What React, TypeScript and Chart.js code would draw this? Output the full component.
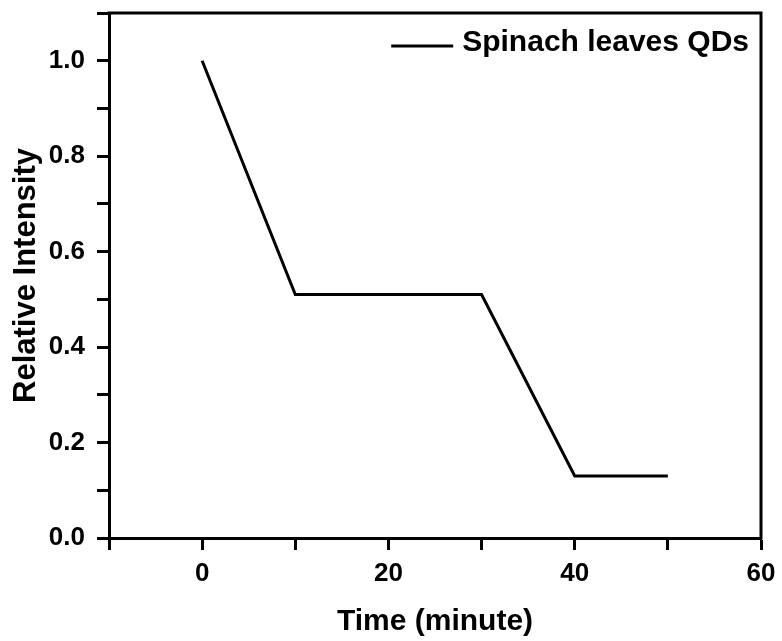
import React, { useEffect, useRef } from 'react';
import { Chart, registerables } from 'chart.js';

Chart.register(...registerables);

const seriesLabel = 'Spinach leaves QDs';
const timeMinutes = [0, 10, 30, 40, 50];
const relativeIntensity = [1.0, 0.51, 0.51, 0.13, 0.13];
const xTickLabels = [0, 20, 40, 60];
const yTickLabels = [0.0, 0.2, 0.4, 0.6, 0.8, 1.0];
const xTitle = 'Time (minute)';
const yTitle = 'Relative Intensity';

const FONT = "'Liberation Sans', Arial, Helvetica, sans-serif";

const framePlugin = {
  id: 'frame',
  afterDatasetsDraw(chart: any) {
    const { ctx, chartArea } = chart;
    ctx.save();
    ctx.strokeStyle = '#000';
    ctx.lineWidth = 3;
    ctx.lineCap = 'square';
    ctx.beginPath();
    ctx.moveTo(chartArea.left, chartArea.top);
    ctx.lineTo(chartArea.right, chartArea.top);
    ctx.lineTo(chartArea.right, chartArea.bottom);
    ctx.stroke();
    ctx.restore();
  },
};

const legendPlugin = {
  id: 'customLegend',
  afterDatasetsDraw(chart: any) {
    const { ctx, chartArea } = chart;
    const ds = chart.data.datasets[0];
    ctx.save();
    ctx.font = `bold 30px ${FONT}`;
    ctx.fillStyle = '#000';
    ctx.textBaseline = 'middle';
    ctx.textAlign = 'left';
    const w = ctx.measureText(ds.label).width;
    const textX = chartArea.right - 12 - w;
    const y = chartArea.top + 30;
    ctx.fillText(ds.label, textX, y);
    ctx.strokeStyle = ds.borderColor;
    ctx.lineWidth = 3;
    ctx.beginPath();
    ctx.moveTo(textX - 71, y + 3);
    ctx.lineTo(textX - 9, y + 3);
    ctx.stroke();
    ctx.restore();
  },
};

export default function App() {
  const ref = useRef<HTMLCanvasElement | null>(null);

  useEffect(() => {
    if (!ref.current) return;
    const chart = new Chart(ref.current, {
      type: 'line',
      data: {
        datasets: [
          {
            label: seriesLabel,
            data: timeMinutes.map((x, i) => ({ x, y: relativeIntensity[i] })),
            borderColor: '#000',
            backgroundColor: '#000',
            borderWidth: 3,
            pointRadius: 0,
            fill: false,
            tension: 0,
          },
        ],
      },
      options: {
        responsive: false,
        maintainAspectRatio: false,
        animation: false,
        layout: { padding: { left: 0, right: 21, top: 13, bottom: 0 } },
        plugins: {
          legend: { display: false },
          tooltip: { enabled: false },
        },
        scales: {
          x: {
            type: 'linear',
            min: -10,
            max: 60,
            ticks: {
              stepSize: 10,
              autoSkip: false,
              maxRotation: 0,
              color: '#000',
              padding: 8,
              font: { family: FONT, size: 26, weight: 'bold' },
              callback: (v: any) => (xTickLabels.some((t) => Math.abs(t - v) < 1e-6) ? String(v) : ''),
            },
            grid: {
              display: true,
              drawOnChartArea: false,
              drawTicks: true,
              tickLength: 12,
              tickWidth: 3,
              tickColor: '#000',
            },
            border: { display: true, color: '#000', width: 3 },
            title: {
              display: true,
              text: xTitle,
              color: '#000',
              font: { family: FONT, size: 30, weight: 'bold' },
              padding: { top: 10, bottom: 1 },
            },
            afterFit: (s: any) => {
              s.height = 103;
              s.paddingLeft = 0;
              s.paddingRight = 0;
              s.paddingTop = 0;
              s.paddingBottom = 0;
            },
          },
          y: {
            type: 'linear',
            min: 0,
            max: 1.1,
            ticks: {
              stepSize: 0.1,
              autoSkip: false,
              color: '#000',
              padding: 12,
              font: { family: FONT, size: 26, weight: 'bold' },
              callback: (v: any) => {
                const hit = yTickLabels.find((t) => Math.abs(t - v) < 1e-6);
                return hit !== undefined ? hit.toFixed(1) : '';
              },
            },
            grid: {
              display: true,
              drawOnChartArea: false,
              drawTicks: true,
              tickLength: 12,
              tickWidth: 3,
              tickColor: '#000',
            },
            border: { display: true, color: '#000', width: 3 },
            title: {
              display: true,
              text: yTitle,
              color: '#000',
              font: { family: FONT, size: 31, weight: 'bold' },
              padding: { top: 8, bottom: 10 },
            },
            afterFit: (s: any) => {
              s.width = 109;
              s.paddingLeft = 0;
              s.paddingRight = 0;
              s.paddingTop = 0;
              s.paddingBottom = 0;
            },
          },
        },
      },
      plugins: [framePlugin, legendPlugin],
    } as any);
    return () => chart.destroy();
  }, []);

  return (
    <div style={{ position: 'fixed', left: 0, top: 0, width: 782, height: 641, background: '#fff' }}>
      <canvas ref={ref} width={782} height={641} style={{ display: 'block', width: 782, height: 641 }} />
    </div>
  );
}
